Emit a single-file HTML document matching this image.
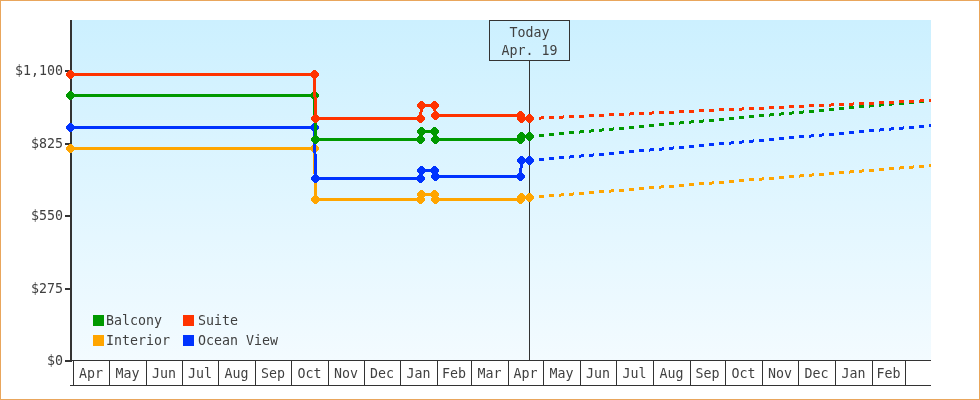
<!DOCTYPE html>
<html lang="en"><head><meta charset="utf-8"><title>Price chart</title>
<style>html,body{margin:0;padding:0;background:#fff}body{width:980px;height:400px;overflow:hidden}svg{display:block}text{font-family:"DejaVu Sans Mono", "Liberation Mono", monospace;font-size:13.29px;fill:#404040}</style></head><body>
<svg width="980" height="400" viewBox="0 0 980 400">
<defs><linearGradient id="bg" x1="0" y1="0" x2="0" y2="1"><stop offset="0" stop-color="#ccf0ff"/><stop offset="1" stop-color="#f3fbff"/></linearGradient></defs>
<rect x="0" y="0" width="980" height="400" fill="#fff"/>
<rect x="0.5" y="0.5" width="979" height="399" fill="none" stroke="#e9a65c" stroke-width="1"/>
<rect x="72" y="20" width="859" height="340" fill="url(#bg)"/>
<g shape-rendering="crispEdges" stroke="#333" stroke-width="1" fill="none">
<line x1="72" y1="360.5" x2="931" y2="360.5"/>
<line x1="70" y1="385.5" x2="931" y2="385.5"/>
<line x1="73.5" y1="360" x2="73.5" y2="386"/>
<line x1="109.5" y1="360" x2="109.5" y2="386"/>
<line x1="146.5" y1="360" x2="146.5" y2="386"/>
<line x1="182.5" y1="360" x2="182.5" y2="386"/>
<line x1="218.5" y1="360" x2="218.5" y2="386"/>
<line x1="255.5" y1="360" x2="255.5" y2="386"/>
<line x1="291.5" y1="360" x2="291.5" y2="386"/>
<line x1="328.5" y1="360" x2="328.5" y2="386"/>
<line x1="364.5" y1="360" x2="364.5" y2="386"/>
<line x1="400.5" y1="360" x2="400.5" y2="386"/>
<line x1="437.5" y1="360" x2="437.5" y2="386"/>
<line x1="471.5" y1="360" x2="471.5" y2="386"/>
<line x1="508.5" y1="360" x2="508.5" y2="386"/>
<line x1="543.5" y1="360" x2="543.5" y2="386"/>
<line x1="580.5" y1="360" x2="580.5" y2="386"/>
<line x1="616.5" y1="360" x2="616.5" y2="386"/>
<line x1="653.5" y1="360" x2="653.5" y2="386"/>
<line x1="690.5" y1="360" x2="690.5" y2="386"/>
<line x1="725.5" y1="360" x2="725.5" y2="386"/>
<line x1="762.5" y1="360" x2="762.5" y2="386"/>
<line x1="798.5" y1="360" x2="798.5" y2="386"/>
<line x1="835.5" y1="360" x2="835.5" y2="386"/>
<line x1="872.5" y1="360" x2="872.5" y2="386"/>
<line x1="905.5" y1="360" x2="905.5" y2="386"/>
</g>
<g>
<text x="79.0" y="378">Apr</text>
<text x="115.5" y="378">May</text>
<text x="152.0" y="378">Jun</text>
<text x="188.0" y="378">Jul</text>
<text x="224.5" y="378">Aug</text>
<text x="261.0" y="378">Sep</text>
<text x="297.5" y="378">Oct</text>
<text x="334.0" y="378">Nov</text>
<text x="370.0" y="378">Dec</text>
<text x="406.5" y="378">Jan</text>
<text x="442.0" y="378">Feb</text>
<text x="477.5" y="378">Mar</text>
<text x="513.5" y="378">Apr</text>
<text x="549.5" y="378">May</text>
<text x="586.0" y="378">Jun</text>
<text x="622.5" y="378">Jul</text>
<text x="659.5" y="378">Aug</text>
<text x="695.5" y="378">Sep</text>
<text x="731.5" y="378">Oct</text>
<text x="768.0" y="378">Nov</text>
<text x="804.5" y="378">Dec</text>
<text x="841.5" y="378">Jan</text>
<text x="876.5" y="378">Feb</text>
</g>
<g shape-rendering="crispEdges">
<line x1="529.5" y1="60" x2="529.5" y2="360" stroke="#333" stroke-width="1"/>
<rect x="489.5" y="20.5" width="80" height="40" fill="none" stroke="#333" stroke-width="1"/>
</g>
<g text-anchor="middle"><text x="529.5" y="37">Today</text><text x="529.5" y="55">Apr. 19</text></g>
<g shape-rendering="crispEdges" fill="#333">
<rect x="70" y="20" width="2" height="342"/>
<rect x="65" y="70" width="5" height="2"/>
<rect x="65" y="143" width="5" height="2"/>
<rect x="65" y="215" width="5" height="2"/>
<rect x="65" y="288" width="5" height="2"/>
<rect x="65" y="360" width="5" height="2"/>
</g>
<g text-anchor="end">
<text x="63" y="75">$1,100</text>
<text x="63" y="147.5">$825</text>
<text x="63" y="219.5">$550</text>
<text x="63" y="292.5">$275</text>
<text x="63" y="364.5">$0</text>
</g>
<rect x="93" y="315" width="11" height="11" fill="#009900"/><text x="106" y="325">Balcony</text>
<rect x="183" y="315" width="11" height="11" fill="#ff3300"/><text x="198" y="325">Suite</text>
<rect x="93" y="335" width="11" height="11" fill="#ffa500"/><text x="106" y="345">Interior</text>
<rect x="183" y="335" width="11" height="11" fill="#0033ff"/><text x="198" y="345">Ocean View</text>
<g shape-rendering="crispEdges">
<path d="M70.5,148.5 L314.5,148.5 L315.5,199.5 L420.5,199.5 L421.5,194.5 L434.5,194.5 L435.5,199.5 L520.5,199.5 L521.5,197.5 L529.5,197.5" fill="none" stroke="#ffa500" stroke-width="3" stroke-linejoin="round"/>
<path d="M529,196h5v3h-5zM539,195h5v3h-5zM549,194h5v3h-5zM559,194h2v3h-2zM561,193h3v3h-3zM569,193h4v3h-4zM573,192h1v3h-1zM579,192h5v3h-5zM589,191h5v3h-5zM599,190h5v3h-5zM609,190h2v3h-2zM611,189h3v3h-3zM619,189h5v3h-5zM629,188h5v3h-5zM639,187h5v3h-5zM649,186h5v3h-5zM659,186h2v3h-2zM661,185h3v3h-3zM669,185h5v3h-5zM679,184h5v3h-5zM689,183h5v3h-5zM699,182h5v3h-5zM709,182h3v3h-3zM712,181h2v3h-2zM719,181h5v3h-5zM729,180h5v3h-5zM739,179h5v3h-5zM749,178h5v3h-5zM759,178h3v3h-3zM762,177h2v3h-2zM769,177h5v3h-5zM779,176h5v3h-5zM789,175h5v3h-5zM799,175h1v3h-1zM800,174h4v3h-4zM809,174h3v3h-3zM812,173h2v3h-2zM819,173h5v3h-5zM829,172h5v3h-5zM839,171h5v3h-5zM849,171h1v3h-1zM850,170h4v3h-4zM859,170h3v3h-3zM862,169h2v3h-2zM869,169h5v3h-5zM879,168h5v3h-5zM889,167h5v3h-5zM899,167h1v3h-1zM900,166h4v3h-4zM909,166h4v3h-4zM913,165h1v3h-1zM919,165h5v3h-5zM929,164h2v3h-2z" fill="#ffa500"/>
<path d="M69,144h3v1h1v1h1v1h1v3h-1v1h-1v1h-1v1h-3v-1h-1v-1h-1v-1h-1v-3h1v-1h1v-1h1z" fill="#ffa500"/>
<path d="M313,144h3v1h1v1h1v1h1v3h-1v1h-1v1h-1v1h-3v-1h-1v-1h-1v-1h-1v-3h1v-1h1v-1h1z" fill="#ffa500"/>
<path d="M314,195h3v1h1v1h1v1h1v3h-1v1h-1v1h-1v1h-3v-1h-1v-1h-1v-1h-1v-3h1v-1h1v-1h1z" fill="#ffa500"/>
<path d="M419,195h3v1h1v1h1v1h1v3h-1v1h-1v1h-1v1h-3v-1h-1v-1h-1v-1h-1v-3h1v-1h1v-1h1z" fill="#ffa500"/>
<path d="M420,190h3v1h1v1h1v1h1v3h-1v1h-1v1h-1v1h-3v-1h-1v-1h-1v-1h-1v-3h1v-1h1v-1h1z" fill="#ffa500"/>
<path d="M433,190h3v1h1v1h1v1h1v3h-1v1h-1v1h-1v1h-3v-1h-1v-1h-1v-1h-1v-3h1v-1h1v-1h1z" fill="#ffa500"/>
<path d="M434,195h3v1h1v1h1v1h1v3h-1v1h-1v1h-1v1h-3v-1h-1v-1h-1v-1h-1v-3h1v-1h1v-1h1z" fill="#ffa500"/>
<path d="M519,195h3v1h1v1h1v1h1v3h-1v1h-1v1h-1v1h-3v-1h-1v-1h-1v-1h-1v-3h1v-1h1v-1h1z" fill="#ffa500"/>
<path d="M520,193h3v1h1v1h1v1h1v3h-1v1h-1v1h-1v1h-3v-1h-1v-1h-1v-1h-1v-3h1v-1h1v-1h1z" fill="#ffa500"/>
<path d="M528,193h3v1h1v1h1v1h1v3h-1v1h-1v1h-1v1h-3v-1h-1v-1h-1v-1h-1v-3h1v-1h1v-1h1z" fill="#ffa500"/>
</g>
<g shape-rendering="crispEdges">
<path d="M70.5,127.5 L314.5,127.5 L315.5,178.5 L420.5,178.5 L421.5,170.5 L434.5,170.5 L435.5,176.5 L520.5,176.5 L521.5,160.5 L529.5,160.5" fill="none" stroke="#0033ff" stroke-width="3" stroke-linejoin="round"/>
<path d="M529,159h5v3h-5zM539,158h5v3h-5zM549,157h5v3h-5zM559,156h5v3h-5zM569,156h1v3h-1zM570,155h4v3h-4zM579,155h2v3h-2zM581,154h3v3h-3zM589,154h4v3h-4zM593,153h1v3h-1zM599,153h5v3h-5zM609,152h5v3h-5zM619,151h5v3h-5zM629,150h5v3h-5zM639,149h5v3h-5zM649,149h1v3h-1zM650,148h4v3h-4zM659,148h3v3h-3zM662,147h2v3h-2zM669,147h4v3h-4zM673,146h1v3h-1zM679,146h5v3h-5zM689,145h5v3h-5zM699,144h5v3h-5zM709,143h5v3h-5zM719,142h5v3h-5zM729,142h2v3h-2zM731,141h3v3h-3zM739,141h3v3h-3zM742,140h2v3h-2zM749,140h4v3h-4zM753,139h1v3h-1zM759,139h5v3h-5zM769,138h5v3h-5zM779,137h5v3h-5zM789,136h5v3h-5zM799,135h5v3h-5zM809,135h2v3h-2zM811,134h3v3h-3zM819,134h3v3h-3zM822,133h2v3h-2zM829,133h5v3h-5zM839,132h5v3h-5zM849,131h5v3h-5zM859,130h5v3h-5zM869,129h5v3h-5zM879,129h1v3h-1zM880,128h4v3h-4zM889,128h2v3h-2zM891,127h3v3h-3zM899,127h4v3h-4zM903,126h1v3h-1zM909,126h5v3h-5zM919,125h5v3h-5zM929,124h2v3h-2z" fill="#0033ff"/>
<path d="M69,123h3v1h1v1h1v1h1v3h-1v1h-1v1h-1v1h-3v-1h-1v-1h-1v-1h-1v-3h1v-1h1v-1h1z" fill="#0033ff"/>
<path d="M313,123h3v1h1v1h1v1h1v3h-1v1h-1v1h-1v1h-3v-1h-1v-1h-1v-1h-1v-3h1v-1h1v-1h1z" fill="#0033ff"/>
<path d="M314,174h3v1h1v1h1v1h1v3h-1v1h-1v1h-1v1h-3v-1h-1v-1h-1v-1h-1v-3h1v-1h1v-1h1z" fill="#0033ff"/>
<path d="M419,174h3v1h1v1h1v1h1v3h-1v1h-1v1h-1v1h-3v-1h-1v-1h-1v-1h-1v-3h1v-1h1v-1h1z" fill="#0033ff"/>
<path d="M420,166h3v1h1v1h1v1h1v3h-1v1h-1v1h-1v1h-3v-1h-1v-1h-1v-1h-1v-3h1v-1h1v-1h1z" fill="#0033ff"/>
<path d="M433,166h3v1h1v1h1v1h1v3h-1v1h-1v1h-1v1h-3v-1h-1v-1h-1v-1h-1v-3h1v-1h1v-1h1z" fill="#0033ff"/>
<path d="M434,172h3v1h1v1h1v1h1v3h-1v1h-1v1h-1v1h-3v-1h-1v-1h-1v-1h-1v-3h1v-1h1v-1h1z" fill="#0033ff"/>
<path d="M519,172h3v1h1v1h1v1h1v3h-1v1h-1v1h-1v1h-3v-1h-1v-1h-1v-1h-1v-3h1v-1h1v-1h1z" fill="#0033ff"/>
<path d="M520,156h3v1h1v1h1v1h1v3h-1v1h-1v1h-1v1h-3v-1h-1v-1h-1v-1h-1v-3h1v-1h1v-1h1z" fill="#0033ff"/>
<path d="M528,156h3v1h1v1h1v1h1v3h-1v1h-1v1h-1v1h-3v-1h-1v-1h-1v-1h-1v-3h1v-1h1v-1h1z" fill="#0033ff"/>
</g>
<g shape-rendering="crispEdges">
<path d="M70.5,95.5 L314.5,95.5 L315.5,139.5 L420.5,139.5 L421.5,131.5 L434.5,131.5 L435.5,139.5 L520.5,139.5 L521.5,136.5 L529.5,136.5" fill="none" stroke="#009900" stroke-width="3" stroke-linejoin="round"/>
<path d="M529,135h5v3h-5zM539,134h5v3h-5zM549,133h5v3h-5zM559,132h5v3h-5zM569,131h5v3h-5zM579,131h1v3h-1zM580,130h4v3h-4zM589,130h2v3h-2zM591,129h3v3h-3zM599,129h3v3h-3zM602,128h2v3h-2zM609,128h4v3h-4zM613,127h1v3h-1zM619,127h5v3h-5zM629,126h5v3h-5zM639,125h5v3h-5zM649,124h5v3h-5zM659,123h5v3h-5zM669,122h5v3h-5zM679,122h1v3h-1zM680,121h4v3h-4zM689,121h2v3h-2zM691,120h3v3h-3zM699,120h4v3h-4zM703,119h1v3h-1zM709,119h5v3h-5zM719,118h5v3h-5zM729,117h5v3h-5zM739,116h5v3h-5zM749,115h5v3h-5zM759,114h5v3h-5zM769,114h1v3h-1zM770,113h4v3h-4zM779,113h2v3h-2zM781,112h3v3h-3zM789,112h3v3h-3zM792,111h2v3h-2zM799,111h4v3h-4zM803,110h1v3h-1zM809,110h5v3h-5zM819,109h5v3h-5zM829,108h5v3h-5zM839,107h5v3h-5zM849,106h5v3h-5zM859,105h5v3h-5zM869,105h1v3h-1zM870,104h4v3h-4zM879,104h2v3h-2zM881,103h3v3h-3zM889,103h3v3h-3zM892,102h2v3h-2zM899,102h5v3h-5zM909,101h5v3h-5zM919,100h5v3h-5zM929,99h2v3h-2z" fill="#009900"/>
<path d="M69,91h3v1h1v1h1v1h1v3h-1v1h-1v1h-1v1h-3v-1h-1v-1h-1v-1h-1v-3h1v-1h1v-1h1z" fill="#009900"/>
<path d="M313,91h3v1h1v1h1v1h1v3h-1v1h-1v1h-1v1h-3v-1h-1v-1h-1v-1h-1v-3h1v-1h1v-1h1z" fill="#009900"/>
<path d="M314,135h3v1h1v1h1v1h1v3h-1v1h-1v1h-1v1h-3v-1h-1v-1h-1v-1h-1v-3h1v-1h1v-1h1z" fill="#009900"/>
<path d="M419,135h3v1h1v1h1v1h1v3h-1v1h-1v1h-1v1h-3v-1h-1v-1h-1v-1h-1v-3h1v-1h1v-1h1z" fill="#009900"/>
<path d="M420,127h3v1h1v1h1v1h1v3h-1v1h-1v1h-1v1h-3v-1h-1v-1h-1v-1h-1v-3h1v-1h1v-1h1z" fill="#009900"/>
<path d="M433,127h3v1h1v1h1v1h1v3h-1v1h-1v1h-1v1h-3v-1h-1v-1h-1v-1h-1v-3h1v-1h1v-1h1z" fill="#009900"/>
<path d="M434,135h3v1h1v1h1v1h1v3h-1v1h-1v1h-1v1h-3v-1h-1v-1h-1v-1h-1v-3h1v-1h1v-1h1z" fill="#009900"/>
<path d="M519,135h3v1h1v1h1v1h1v3h-1v1h-1v1h-1v1h-3v-1h-1v-1h-1v-1h-1v-3h1v-1h1v-1h1z" fill="#009900"/>
<path d="M520,132h3v1h1v1h1v1h1v3h-1v1h-1v1h-1v1h-3v-1h-1v-1h-1v-1h-1v-3h1v-1h1v-1h1z" fill="#009900"/>
<path d="M528,132h3v1h1v1h1v1h1v3h-1v1h-1v1h-1v1h-3v-1h-1v-1h-1v-1h-1v-3h1v-1h1v-1h1z" fill="#009900"/>
</g>
<g shape-rendering="crispEdges">
<path d="M70.5,74.5 L314.5,74.5 L315.5,118.5 L420.5,118.5 L421.5,105.5 L434.5,105.5 L435.5,115.5 L520.5,115.5 L521.5,118.5 L529.5,118.5" fill="none" stroke="#ff3300" stroke-width="3" stroke-linejoin="round"/>
<path d="M529,117h5v3h-5zM539,117h2v3h-2zM541,116h3v3h-3zM549,116h5v3h-5zM559,116h4v3h-4zM563,115h1v3h-1zM569,115h5v3h-5zM579,115h5v3h-5zM589,114h5v3h-5zM599,114h5v3h-5zM609,113h5v3h-5zM619,113h5v3h-5zM629,113h1v3h-1zM630,112h4v3h-4zM639,112h5v3h-5zM649,112h3v3h-3zM652,111h2v3h-2zM659,111h5v3h-5zM669,111h5v3h-5zM679,110h5v3h-5zM689,110h5v3h-5zM699,109h5v3h-5zM709,109h5v3h-5zM719,108h5v3h-5zM729,108h5v3h-5zM739,108h3v3h-3zM742,107h2v3h-2zM749,107h5v3h-5zM759,107h5v3h-5zM769,106h5v3h-5zM779,106h5v3h-5zM789,105h5v3h-5zM799,105h5v3h-5zM809,104h5v3h-5zM819,104h5v3h-5zM829,104h2v3h-2zM831,103h3v3h-3zM839,103h5v3h-5zM849,103h4v3h-4zM853,102h1v3h-1zM859,102h5v3h-5zM869,102h5v3h-5zM879,101h5v3h-5zM889,101h5v3h-5zM899,100h5v3h-5zM909,100h5v3h-5zM919,100h1v3h-1zM920,99h4v3h-4zM929,99h2v3h-2z" fill="#ff3300"/>
<path d="M69,70h3v1h1v1h1v1h1v3h-1v1h-1v1h-1v1h-3v-1h-1v-1h-1v-1h-1v-3h1v-1h1v-1h1z" fill="#ff3300"/>
<path d="M313,70h3v1h1v1h1v1h1v3h-1v1h-1v1h-1v1h-3v-1h-1v-1h-1v-1h-1v-3h1v-1h1v-1h1z" fill="#ff3300"/>
<path d="M314,114h3v1h1v1h1v1h1v3h-1v1h-1v1h-1v1h-3v-1h-1v-1h-1v-1h-1v-3h1v-1h1v-1h1z" fill="#ff3300"/>
<path d="M419,114h3v1h1v1h1v1h1v3h-1v1h-1v1h-1v1h-3v-1h-1v-1h-1v-1h-1v-3h1v-1h1v-1h1z" fill="#ff3300"/>
<path d="M420,101h3v1h1v1h1v1h1v3h-1v1h-1v1h-1v1h-3v-1h-1v-1h-1v-1h-1v-3h1v-1h1v-1h1z" fill="#ff3300"/>
<path d="M433,101h3v1h1v1h1v1h1v3h-1v1h-1v1h-1v1h-3v-1h-1v-1h-1v-1h-1v-3h1v-1h1v-1h1z" fill="#ff3300"/>
<path d="M434,111h3v1h1v1h1v1h1v3h-1v1h-1v1h-1v1h-3v-1h-1v-1h-1v-1h-1v-3h1v-1h1v-1h1z" fill="#ff3300"/>
<path d="M519,111h3v1h1v1h1v1h1v3h-1v1h-1v1h-1v1h-3v-1h-1v-1h-1v-1h-1v-3h1v-1h1v-1h1z" fill="#ff3300"/>
<path d="M520,114h3v1h1v1h1v1h1v3h-1v1h-1v1h-1v1h-3v-1h-1v-1h-1v-1h-1v-3h1v-1h1v-1h1z" fill="#ff3300"/>
<path d="M528,114h3v1h1v1h1v1h1v3h-1v1h-1v1h-1v1h-3v-1h-1v-1h-1v-1h-1v-3h1v-1h1v-1h1z" fill="#ff3300"/>
</g>
</svg></body></html>
